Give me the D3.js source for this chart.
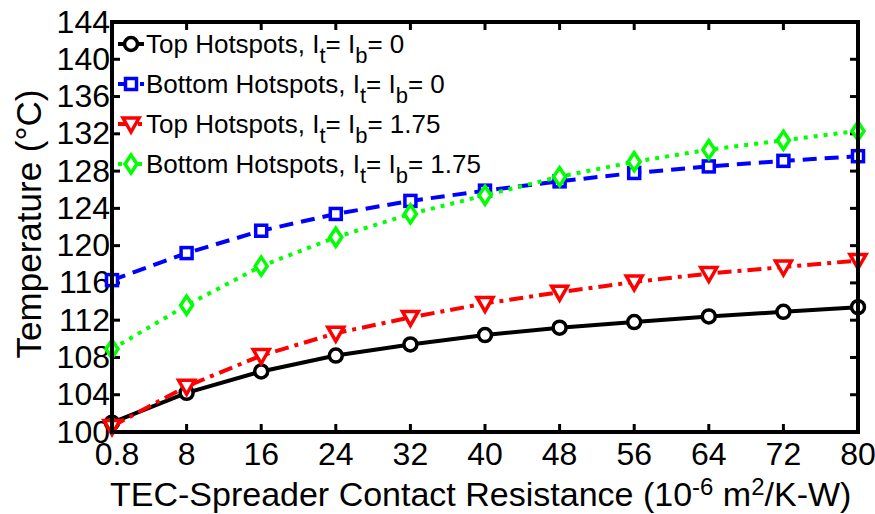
<!DOCTYPE html>
<html>
<head>
<meta charset="utf-8">
<script src="https://cdn.jsdelivr.net/npm/d3@7"></script>
<style>
  body { margin: 0; background: #fff; }
  svg { display: block; font-family: "Liberation Sans", Arial, sans-serif; }
</style>
</head>
<body>
<script>
// categories on the x axis (evenly spaced)
var categories = ["0.8", "8", "16", "24", "32", "40", "48", "56", "64", "72", "80"];
var yTicks = [100, 104, 108, 112, 116, 120, 124, 128, 132, 136, 140, 144];

// series values
var topNoCurrent = [101.0, 104.2, 106.5, 108.2, 109.4, 110.4, 111.2, 111.8, 112.4, 112.9, 113.4];
var bottomNoCurrent = [116.3, 119.2, 121.6, 123.4, 124.8, 125.9, 126.9, 127.8, 128.5, 129.1, 129.6];
var topCurrent = [100.6, 104.9, 108.2, 110.6, 112.3, 113.8, 115.0, 116.1, 117.0, 117.7, 118.4];
var bottomCurrent = [108.9, 113.6, 117.8, 120.9, 123.4, 125.4, 127.4, 129.0, 130.3, 131.3, 132.3];

var W = 875, H = 514;
var margin = { top: 22, right: 17, bottom: 82, left: 112 },
  width = W - margin.left - margin.right,
  height = H - margin.top - margin.bottom;

var x = d3.scalePoint().domain(categories).range([0, width]);
var y = d3.scaleLinear().domain([100, 144]).range([height, 0]);

var svg = d3.select("body").append("svg")
  .attr("width", W).attr("height", H);

var g = svg.append("g")
  .attr("transform", "translate(" + margin.left + "," + margin.top + ")");

// ticks (inward on all four sides)
var tickLen = 8;
g.selectAll(".xtb").data(categories).enter().append("line")
  .attr("x1", d => x(d)).attr("x2", d => x(d))
  .attr("y1", height).attr("y2", height - tickLen)
  .attr("stroke", "#000").attr("stroke-width", 3);
g.selectAll(".xtt").data(categories).enter().append("line")
  .attr("x1", d => x(d)).attr("x2", d => x(d))
  .attr("y1", 0).attr("y2", tickLen)
  .attr("stroke", "#000").attr("stroke-width", 3);
g.selectAll(".ytl").data(yTicks).enter().append("line")
  .attr("x1", 0).attr("x2", tickLen)
  .attr("y1", d => y(d)).attr("y2", d => y(d))
  .attr("stroke", "#000").attr("stroke-width", 3);
g.selectAll(".ytr").data(yTicks).enter().append("line")
  .attr("x1", width).attr("x2", width - tickLen)
  .attr("y1", d => y(d)).attr("y2", d => y(d))
  .attr("stroke", "#000").attr("stroke-width", 3);

// tick labels
g.selectAll(".xl").data(categories).enter().append("text")
  .attr("x", (d, i) => x(d) + (i === 0 ? 5 : 0))
  .attr("y", height + 33)
  .attr("text-anchor", "middle")
  .style("font-size", "32px")
  .text(d => d);
g.selectAll(".yl").data(yTicks).enter().append("text")
  .attr("x", -2)
  .attr("y", d => y(d) + 10.5)
  .attr("text-anchor", "end")
  .style("font-size", "32px")
  .text(d => d);

// series
var series = [
  { name: "Top", sub: "0", values: topNoCurrent, color: "#000", dash: null, marker: "circle" },
  { name: "Bottom", sub: "0", values: bottomNoCurrent, color: "#0000ff", dash: "14,8", marker: "square" },
  { name: "Top", sub: "1.75", values: topCurrent, color: "#ff0000", dash: "14,6,4,6", marker: "triangle" },
  { name: "Bottom", sub: "1.75", values: bottomCurrent, color: "#00ff00", dash: "4,6", marker: "diamond" }
];

var line = d3.line()
  .x((d, i) => x(categories[i]))
  .y(d => y(d));

var drawMarker = function (sel, type, color) {
  if (type === "circle") {
    sel.append("circle").attr("r", 6.5);
  } else if (type === "square") {
    sel.append("rect").attr("x", -5.5).attr("y", -5.5).attr("width", 11).attr("height", 11);
  } else if (type === "triangle") {
    sel.append("path").attr("d", "M-8,-6L8,-6L0,8Z");
  } else {
    sel.append("path").attr("d", "M0,-9L6,0L0,9L-6,0Z");
  }
  sel.selectAll("*").attr("fill", "#fff").attr("stroke", color).attr("stroke-width", 3.5);
};

series.forEach(function (s) {
  g.append("path")
    .datum(s.values)
    .attr("d", line)
    .attr("fill", "none")
    .attr("stroke", s.color)
    .attr("stroke-width", 4)
    .attr("stroke-dasharray", s.dash);
  s.values.forEach(function (v, i) {
    var m = g.append("g").attr("transform", "translate(" + x(categories[i]) + "," + y(v) + ")");
    drawMarker(m, s.marker, s.color);
  });
});

// box
g.append("rect")
  .attr("width", width).attr("height", height)
  .attr("fill", "none").attr("stroke", "#000").attr("stroke-width", 4);

// legend
var legend = g.append("g").attr("transform", "translate(6,22)");
series.forEach(function (s, i) {
  var row = legend.append("g").attr("transform", "translate(0," + (i * 40) + ")");
  row.append("line").attr("x1", 0).attr("x2", 26).attr("y1", 0).attr("y2", 0)
    .attr("stroke", s.color).attr("stroke-width", 4).attr("stroke-dasharray", s.dash);
  var m = row.append("g").attr("transform", "translate(13,0)");
  drawMarker(m, s.marker, s.color);
  var t = row.append("text").attr("x", 28).attr("y", 9).style("font-size", "26px");
  t.append("tspan").text(s.name + " Hotspots, I");
  t.append("tspan").attr("dy", 10).style("font-size", "22px").text("t");
  t.append("tspan").attr("dy", -10).text("= I");
  t.append("tspan").attr("dy", 10).style("font-size", "22px").text("b");
  t.append("tspan").attr("dy", -10).text("= " + s.sub);
});

// axis labels
var xl = svg.append("text")
  .attr("x", 110)
  .attr("y", H - 8)
  .attr("text-anchor", "start")
  .style("font-size", "34px");
xl.append("tspan").text("TEC-Spreader Contact Resistance (10");
xl.append("tspan").attr("dy", -11).style("font-size", "24px").text("-6");
xl.append("tspan").attr("dy", 11).text(" m");
xl.append("tspan").attr("dy", -11).style("font-size", "24px").text("2");
xl.append("tspan").attr("dy", 11).text("/K-W)");

svg.append("text")
  .attr("transform", "translate(41,224) rotate(-90)")
  .attr("text-anchor", "middle")
  .style("font-size", "35px")
  .text("Temperature (°C)");
</script>
</body>
</html>
